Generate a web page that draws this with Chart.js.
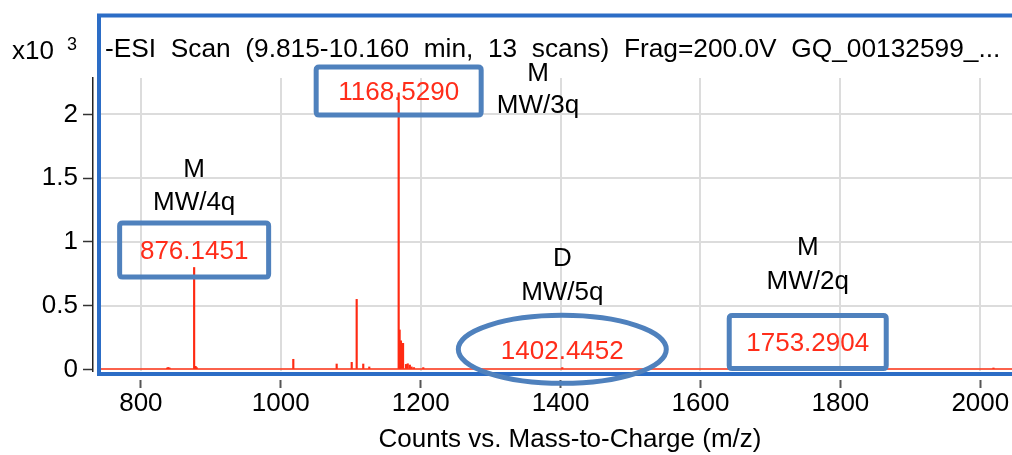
<!DOCTYPE html>
<html>
<head>
<meta charset="utf-8">
<script src="https://cdn.jsdelivr.net/npm/chart.js@4.4.1/dist/chart.umd.min.js"></script>
<style>
  html, body { margin: 0; padding: 0; background: #fff; overflow: hidden; }
  #wrap { width: 1045px; height: 455px; }
</style>
</head>
<body>
<div id="wrap"><canvas id="spectrum" width="1045" height="455"></canvas></div>
<script>
// Centroided peaks: m/z and abundance (x10^3 counts)
const mzValues = [
  837.5, 839.2, 841.0, 876.1451, 878.2, 879.8,
  1017.9, 1079.9, 1101.4, 1108.5, 1117.9, 1126.5,
  1168.529, 1169.9, 1171.8, 1174.8, 1179.0, 1181.5, 1184.5, 1187.0, 1190.4, 1203.7,
  1402.4452, 1753.2904, 2018.8
];
const intensities = [
  0.012, 0.016, 0.012, 0.80, 0.025, 0.015,
  0.08, 0.043, 0.056, 0.55, 0.043, 0.02,
  2.17, 0.31, 0.225, 0.205, 0.04, 0.045, 0.035, 0.02, 0.015, 0.015,
  0.015, 0.025, 0.012
];

// Axis ticks
const xTickValues = [800, 1000, 1200, 1400, 1600, 1800, 2000];
const yTickValues = [0, 0.5, 1, 1.5, 2];
const yTickLabels = ['0', '0.5', '1', '1.5', '2'];

// Annotated ions
const peakMz     = [876.1451, 1168.5290, 1402.4452, 1753.2904];
const peakLabels = ['876.1451', '1168.5290', '1402.4452', '1753.2904'];
const speciesTags = ['M', 'M', 'D', 'M'];
const chargeTags  = ['MW/4q', 'MW/3q', 'MW/5q', 'MW/2q'];

const titleText = '-ESI  Scan  (9.815-10.160  min,  13  scans)  Frag=200.0V  GQ_00132599_...';
const axisTitle = 'Counts vs. Mass-to-Charge (m/z)';
const exponentBase = 'x10';
const exponentPower = '3';

// Plot window (m/z and x10^3 counts)
const X_MIN = 743.0, X_MAX = 2083.9;
const Y_MIN = -0.0118, Y_MAX = 2.286;

const FONT = 'Liberation Sans, Arial, sans-serif';
const FRAME_BLUE = '#2C6DC6';
const CALLOUT_BLUE = '#4F81BD';
const PEAK_RED = '#FF2A12';
const LABEL_RED = '#FF2D1A';

// Placement of each callout: label level (data units), tag column and levels, outline shape and size
const calloutLayout = [
  { labelLevel: 0.937, shape: 'box',     w: 149, h: 54, tagMz: 876.1451, tagLevels: [1.580, 1.322] },
  { labelLevel: 2.184, shape: 'box',     w: 165, h: 48, tagMz: 1367.7,   tagLevels: [2.333, 2.082] },
  { labelLevel: 0.158, shape: 'ellipse', w: 208, h: 68, tagMz: 1402.4452, tagLevels: [0.882, 0.616] },
  { labelLevel: 0.216, shape: 'box',     w: 157, h: 53, tagMz: 1753.2904, tagLevels: [0.969, 0.702] }
];

// Text drawn with its glyph centre at y
function centredText(ctx, text, x, y, size, color, align) {
  ctx.font = size + 'px ' + FONT;
  ctx.fillStyle = color;
  ctx.textAlign = align || 'center';
  ctx.textBaseline = 'alphabetic';
  ctx.fillText(text, x, y + 0.36 * size);
}

function roundRect(ctx, cx, cy, w, h, r) {
  const x = cx - w / 2, y = cy - h / 2;
  ctx.beginPath();
  ctx.moveTo(x + r, y);
  ctx.lineTo(x + w - r, y);
  ctx.quadraticCurveTo(x + w, y, x + w, y + r);
  ctx.lineTo(x + w, y + h - r);
  ctx.quadraticCurveTo(x + w, y + h, x + w - r, y + h);
  ctx.lineTo(x + r, y + h);
  ctx.quadraticCurveTo(x, y + h, x, y + h - r);
  ctx.lineTo(x, y + r);
  ctx.quadraticCurveTo(x, y, x + r, y);
  ctx.closePath();
}

const decorPlugin = {
  id: 'spectrumDecor',
  afterDraw(chart) {
    const { ctx, chartArea: a } = chart;
    const xs = chart.scales.x, ys = chart.scales.y;
    ctx.save();

    // outer frame of the plot panel
    ctx.strokeStyle = FRAME_BLUE;
    ctx.lineWidth = 4;
    ctx.strokeRect(a.left - 2, 15.5, a.right + 2 - (a.left - 2), a.bottom + 3 - 15.5);

    // scan header
    centredText(ctx, titleText, a.left + 4, 48, 26.3, '#000', 'left');

    // exponent of the abundance axis
    centredText(ctx, exponentBase, 12, 50, 26, '#000', 'left');
    centredText(ctx, exponentPower, 67, 44, 18, '#000', 'left');

    // callouts
    peakMz.forEach((mz, i) => {
      const L = calloutLayout[i];
      const cx = xs.getPixelForValue(mz);
      const cy = ys.getPixelForValue(L.labelLevel);
      ctx.strokeStyle = CALLOUT_BLUE;
      ctx.lineWidth = 5;
      if (L.shape === 'box') {
        roundRect(ctx, cx, cy, L.w, L.h, 3);
        ctx.stroke();
      } else {
        ctx.beginPath();
        ctx.ellipse(cx, cy, L.w / 2, L.h / 2, 0, 0, Math.PI * 2);
        ctx.stroke();
      }
      centredText(ctx, peakLabels[i], cx, cy, 26, LABEL_RED);
      const tx = xs.getPixelForValue(L.tagMz);
      centredText(ctx, speciesTags[i], tx, ys.getPixelForValue(L.tagLevels[0]), 26, '#000');
      centredText(ctx, chargeTags[i], tx, ys.getPixelForValue(L.tagLevels[1]), 26, '#000');
    });
    ctx.restore();
  }
};

const setXTicks = s => { s.ticks = xTickValues.map(v => ({ value: v })); };
const setYTicks = s => { s.ticks = yTickValues.map(v => ({ value: v })); };

new Chart(document.getElementById('spectrum'), {
  type: 'bar',
  data: {
    datasets: [{
      data: mzValues.map((m, i) => ({ x: m, y: intensities[i] })),
      backgroundColor: PEAK_RED,
      borderWidth: 0,
      barThickness: 1.5,
      xAxisID: 'x',
      yAxisID: 'y'
    }]
  },
  options: {
    responsive: false,
    animation: false,
    devicePixelRatio: 1,
    layout: { padding: { top: 78, right: 6, left: 0, bottom: 0 } },
    plugins: { legend: { display: false }, tooltip: { enabled: false }, title: { display: false } },
    scales: {
      x: {
        type: 'linear', position: 'bottom', weight: 0,
        min: X_MIN, max: X_MAX, offset: false,
        afterBuildTicks: setXTicks,
        afterFit: s => { s.height = 9; },
        ticks: { display: false },
        grid: { color: '#dcdcdc', lineWidth: 2, drawTicks: false, offset: false },
        border: { display: false }
      },
      xTicks: {
        type: 'linear', position: 'bottom', weight: 1,
        min: X_MIN, max: X_MAX, offset: false,
        afterBuildTicks: setXTicks,
        afterFit: s => { s.height = 75; },
        ticks: {
          font: { family: FONT, size: 26 }, color: '#000', padding: 0,
          maxRotation: 0, autoSkip: false, callback: v => String(v)
        },
        grid: { drawOnChartArea: false, drawTicks: true, tickLength: 8, tickColor: '#555', tickWidth: 2, offset: false },
        border: { display: false },
        title: { display: true, text: axisTitle, color: '#000', font: { family: FONT, size: 26 }, padding: { top: 0, bottom: 0 } }
      },
      y: {
        type: 'linear', position: 'left', weight: 0,
        min: Y_MIN, max: Y_MAX,
        afterBuildTicks: setYTicks,
        afterFit: s => { s.width = 8; },
        ticks: { display: false },
        grid: {
          drawTicks: false, lineWidth: 2,
          color: c => (c.tick && c.tick.value === 0) ? 'rgba(250,70,45,0.85)' : '#dcdcdc'
        },
        border: { display: false }
      },
      yTicks: {
        type: 'linear', position: 'left', weight: 1,
        min: Y_MIN, max: Y_MAX,
        afterBuildTicks: setYTicks,
        afterFit: s => { s.width = 93; },
        ticks: { font: { family: FONT, size: 26 }, color: '#000', padding: 5, callback: (v, i) => yTickLabels[i] },
        grid: { drawOnChartArea: false, tickLength: 10, tickColor: '#333', tickWidth: 1.5 },
        border: { display: true, color: '#222', width: 1.5 }
      }
    }
  },
  plugins: [decorPlugin]
});
</script>
</body>
</html>
